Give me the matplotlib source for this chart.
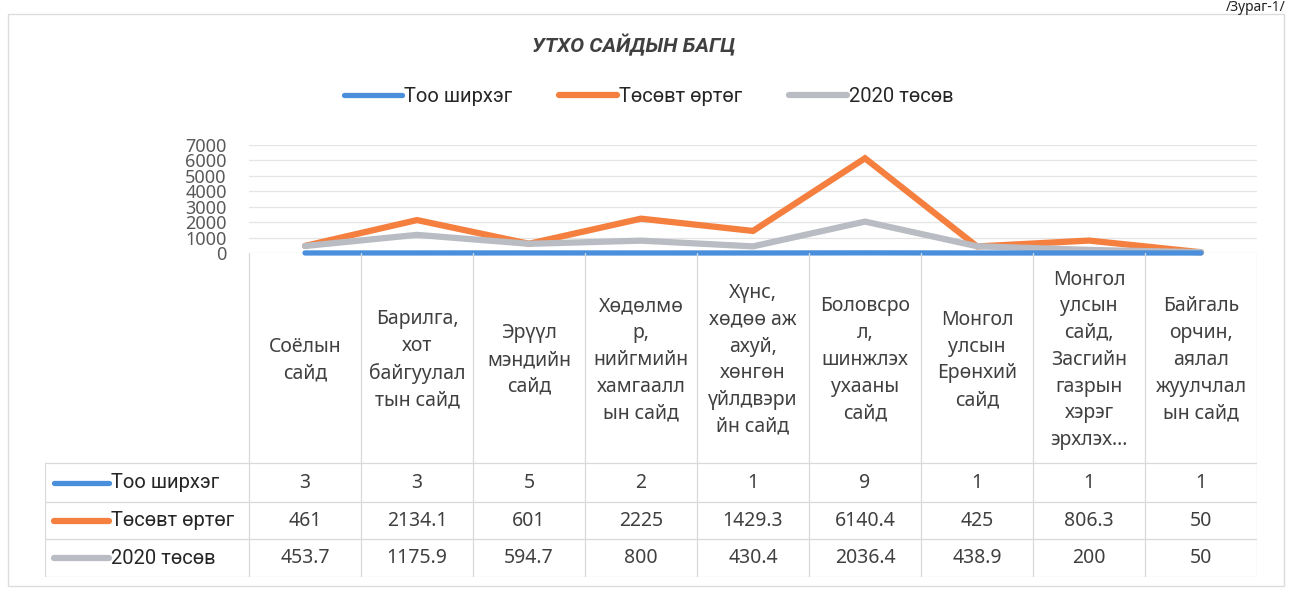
import matplotlib.pyplot as plt
from matplotlib.patches import Rectangle
import numpy as np

plt.rcParams['font.family'] = ['Noto Sans', 'DejaVu Sans']

categories = [
    'Соёлын\nсайд',
    'Барилга,\nхот\nбайгуулал\nтын сайд',
    'Эрүүл\nмэндийн\nсайд',
    'Хөдөлмө\nр,\nнийгмийн\nхамгаалл\nын сайд',
    'Хүнс,\nхөдөө аж\nахуй,\nхөнгөн\nүйлдвэри\nйн сайд',
    'Боловсро\nл,\nшинжлэх\nухааны\nсайд',
    'Монгол\nулсын\nЕрөнхий\nсайд',
    'Монгол\nулсын\nсайд,\nЗасгийн\nгазрын\nхэрэг\nэрхлэх...',
    'Байгаль\nорчин,\nаялал\nжуулчлал\nын сайд',
]
series_names = ['Тоо ширхэг', 'Төсөвт өртөг', '2020 төсөв']
too_shirheg = [3, 3, 5, 2, 1, 9, 1, 1, 1]
tosovt_ortog = [461, 2134.1, 601, 2225, 1429.3, 6140.4, 425, 806.3, 50]
tosov_2020 = [453.7, 1175.9, 594.7, 800, 430.4, 2036.4, 438.9, 200, 50]
table_text = [
    ['3', '3', '5', '2', '1', '9', '1', '1', '1'],
    ['461', '2134.1', '601', '2225', '1429.3', '6140.4', '425', '806.3', '50'],
    ['453.7', '1175.9', '594.7', '800', '430.4', '2036.4', '438.9', '200', '50'],
]
y_ticks = [0, 1000, 2000, 3000, 4000, 5000, 6000, 7000]

colors = ['#4a8fdb', '#f47f3e', '#b9bcc3']
widths = [3.8, 4.5, 4.5]
txt = '#404040'

W, H = 1290, 589
fig = plt.figure(figsize=(W / 100, H / 100), dpi=100)

def fx(px):
    return px / W

def fy(py):
    return 1 - py / H

# outer chart frame
fig.patches.append(Rectangle((fx(8), fy(586)), fx(1284) - fx(8), fy(14) - fy(586),
                             transform=fig.transFigure, fill=False,
                             edgecolor='#dcdcdc', lw=1.0))

fig.text(fx(1286), fy(0), '/Зураг-1/', ha='right', va='top', fontsize=10, color='#222222')

fig.text(fx(634), fy(45), 'УТХО САЙДЫН БАГЦ', ha='center', va='center',
         fontsize=15, fontweight='bold', style='italic', color=txt, family='Roboto')

# plot area
x_left, x_right = 249, 1257
y_top, y_zero = 145, 253
ax = fig.add_axes([fx(x_left), fy(y_zero), fx(x_right) - fx(x_left), fy(y_top) - fy(y_zero)])
n = len(categories)
x = np.arange(n) + 0.5
handles = []
for vals, c, lw, name in zip([too_shirheg, tosovt_ortog, tosov_2020], colors, widths, series_names):
    h, = ax.plot(x, vals, color=c, lw=lw, solid_capstyle='round', solid_joinstyle='miter',
                 clip_on=False, label=name)
    handles.append(h)
handles[0].set_zorder(4)
ax.set_xlim(0, n)
ax.set_ylim(0, 7000)
ax.set_yticks(y_ticks)
ax.set_yticklabels([str(t) for t in y_ticks])
ax.tick_params(axis='y', length=0, pad=16, labelsize=13, labelcolor='#595959')
ax.set_xticks([])
ax.grid(axis='y', color='#e4e4e4', lw=0.9)
for s in ax.spines.values():
    s.set_visible(False)
ax.set_axisbelow(True)

fig.legend(handles=handles, loc='center', bbox_to_anchor=(fx(649), fy(97)), ncol=3,
           frameon=False, handlelength=2.9, handletextpad=0.1, columnspacing=2.3,
           prop={'family': 'Roboto', 'size': 14.5}, labelcolor='#262626')

# data table
t_left, t_right = 45, x_right
t_top, t_hdr, t_bottom = 253, 463, 577
row_lines = [463, 502, 539, 577]
col_w = (x_right - x_left) / n
tab = fig.add_axes([fx(t_left), fy(t_bottom), fx(t_right) - fx(t_left), fy(t_top) - fy(t_bottom)])
hdr = (x_left - t_left) / col_w
tab.set_xlim(-hdr, n)
tab.set_ylim(t_bottom, t_top)
tab.axis('off')
grid_c = '#d9d9d9'
for i in range(n + 1):
    tab.plot([i, i], [t_top, t_bottom], color=grid_c, lw=0.9)
tab.plot([-hdr, -hdr], [t_hdr, t_bottom], color=grid_c, lw=0.9)
for r in row_lines:
    tab.plot([-hdr, n], [r, r], color=grid_c, lw=0.9)

for i, cat in enumerate(categories):
    tab.text(i + 0.5, (t_top + t_hdr) / 2 + 2, cat, ha='center', va='center',
             fontsize=14, color=txt, linespacing=1.45)

for r, (name, c, lw) in enumerate(zip(series_names, colors, widths)):
    yc = (row_lines[r] + row_lines[r + 1]) / 2
    hx0 = -hdr + 9 / col_w
    hx1 = -hdr + 64 / col_w
    tab.plot([hx0, hx1], [yc, yc], color=c, lw=lw, solid_capstyle='round')
    tab.text(hx1 + 2 / col_w, yc, name, ha='left', va='center', fontsize=14.5,
             color='#262626', family='Roboto')
    for i in range(n):
        tab.text(i + 0.5, yc, table_text[r][i], ha='center', va='center',
                 fontsize=14, color=txt)

fig.savefig('out.png', dpi=100)
